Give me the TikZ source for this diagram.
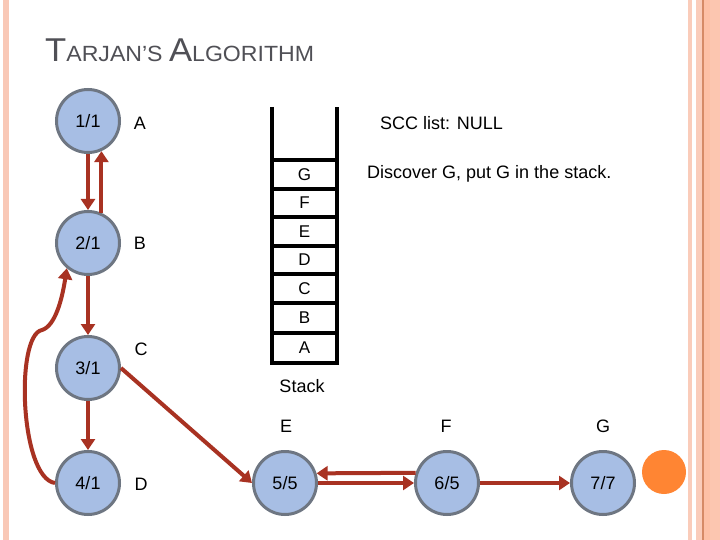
\documentclass[tikz,border=0pt]{standalone}
\usepackage{fontspec}
\setmainfont{Liberation Sans}
\usetikzlibrary{arrows.meta}
\definecolor{nodefill}{RGB}{167,190,228}
\definecolor{nodeline}{RGB}{110,118,130}
\definecolor{edgered}{RGB}{168,50,34}
\definecolor{dotorange}{RGB}{255,133,51}
\definecolor{titlegrey}{RGB}{80,80,86}
\definecolor{stripeA}{RGB}{249,200,182}
\definecolor{stripeB}{RGB}{250,204,186}
\definecolor{stripeC}{RGB}{253,192,166}
\definecolor{stripeD}{RGB}{252,198,176}
\definecolor{stripeLine}{RGB}{214,138,102}
\begin{document}
\begin{tikzpicture}[x=1pt,y=-1pt,
  vert/.style={circle,draw=nodeline,fill=nodefill,line width=3pt,minimum size=63pt,inner sep=0pt,font=\fontsize{18}{18}\selectfont},
  lbl/.style={font=\fontsize{18}{18}\selectfont,inner sep=0pt},
  cell/.style={font=\fontsize{17}{17}\selectfont,inner sep=0pt},
  edge/.style={draw=edgered,line width=4pt,-{Triangle[length=11pt,width=14pt]}},
  stackline/.style={line width=3.2pt}]
\useasboundingbox (0,0) rectangle (720,540);
\fill[white] (0,0) rectangle (720,540);
% borders
\fill[stripeA] (3,0) rectangle (9,540);
\fill[stripeB] (688,0) rectangle (692,540);
\fill[stripeB] (696,0) rectangle (702,540);
\fill[stripeC] (703.5,0) rectangle (710,540);
\fill[stripeD] (710,0) rectangle (720,540);
\fill[stripeLine] (702,0) rectangle (703.5,540);
% title
\node[anchor=base west,inner sep=0pt,text=titlegrey,xscale=1.05] (title) at (45,62)
  {{\fontsize{33}{33}\selectfont T}{\fontsize{22}{22}\selectfont ARJAN’S }{\fontsize{33}{33}\selectfont A}{\fontsize{22}{22}\selectfont LGORITHM}};
% vertices
\node[vert] (n1) at (88,121) {1/1};
\node[vert] (n2) at (88,243) {2/1};
\node[vert] (n3) at (88,368) {3/1};
\node[vert] (n4) at (88,483) {4/1};
\node[vert] (n5) at (285,483) {5/5};
\node[vert] (n6) at (447,483) {6/5};
\node[vert] (n7) at (603,483) {7/7};
\fill[dotorange] (664,472) circle (22);
% labels
\node[lbl] (la) at (140,123) {A};
\node[lbl] (lb) at (140,243) {B};
\node[lbl] (lc) at (141,349) {C};
\node[lbl] (ld) at (141,484) {D};
\node[lbl] (le) at (286,426) {E};
\node[lbl] (lf) at (446,426) {F};
\node[lbl] (lg) at (603,426) {G};
% edges
\draw[edge] (n1.south) -- (n2.north);
\draw[edge] (n2.66.8) -- (n1.-66.8);
\draw[edge] (n2.south) -- (n3.north);
\draw[edge] (n3.south) -- (n4.north);
\draw[edge] (n4.west) .. controls (20,478) and (15,335) .. (42,330) .. controls (55,326) and (62,300) .. (n2.230);
\draw[edge] (n3.east) -- (n5.west);
\draw[edge] (n6.162.4) -- (n5.17.6);
\draw[edge] (n5.east) -- (n6.west);
\draw[edge] (n6.east) -- (n7.west);
% stack
\draw[stackline] (272,107) -- (272,363) -- (337,363) -- (337,107);
\foreach \yy in {160,189,217,246,274,303,333} {
  \draw[stackline] (272,\yy) -- (337,\yy);
}
\node[cell] (sg) at (304.5,175) {G};
\node[cell] (sf) at (304.5,203) {F};
\node[cell] (se) at (304.5,231.5) {E};
\node[cell] (sd) at (304.5,260) {D};
\node[cell] (sc) at (304.5,288.5) {C};
\node[cell] (sb) at (304.5,318) {B};
\node[cell] (sa) at (304.5,348) {A};
\node[lbl] (stack) at (302,386) {Stack};
% texts
\node[lbl,anchor=west] (scc) at (380,123) {SCC list: NULL};
\node[lbl,anchor=west] (disc) at (367,174) {Discover G, put G in the stack.};
\end{tikzpicture}
\end{document}
